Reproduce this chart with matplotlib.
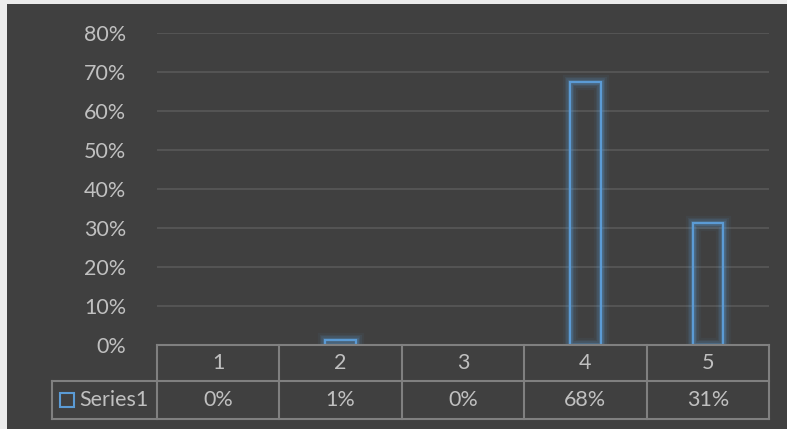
import matplotlib.pyplot as plt
from matplotlib.patches import Rectangle
from matplotlib.lines import Line2D
from matplotlib.ticker import MultipleLocator, PercentFormatter

# -------- dados --------
categorias = ["1", "2", "3", "4", "5"]
valores = [0.0, 0.013, 0.0, 0.675, 0.313]
rotulos = ["0%", "1%", "0%", "68%", "31%"]
serie = "Series1"

# -------- cores --------
fundo = "#404040"
grade = "#595959"
texto = "#c0c0c0"
linha_tab = "#808080"
azul = "#5b9bd5"

plt.rcParams["font.family"] = ["Lato", "DejaVu Sans"]

W, H = 787, 429
fig = plt.figure(figsize=(W / 100, H / 100), dpi=100, facecolor="#ececec")
fig.patches.append(Rectangle((7 / W, 0), 1, 1 - 4 / H, transform=fig.transFigure,
                             facecolor=fundo, edgecolor="none", zorder=-10))

x0, x1 = 157, 769
y0, y1 = 345, 33
ax = fig.add_axes([x0 / W, 1 - y0 / H, (x1 - x0) / W, (y0 - y1) / H])
ax.set_facecolor("none")

# barras com valor zero nao aparecem no original
pos = [i for i, v in enumerate(valores) if v > 0]
alt = [v for v in valores if v > 0]
# brilho em volta das barras
for lw, a in [(11, 0.06), (8, 0.09), (5.5, 0.14), (3.5, 0.2)]:
    ax.bar(pos, alt, width=0.25, facecolor="none", edgecolor=azul,
           linewidth=lw, alpha=a, zorder=2)
ax.bar(pos, alt, width=0.25, facecolor="none", edgecolor=azul,
       linewidth=1.6, zorder=3)

ax.set_xlim(-0.5, len(categorias) - 0.5)
ax.set_ylim(0, 0.8)
ax.yaxis.set_major_locator(MultipleLocator(0.1))
ax.yaxis.set_major_formatter(PercentFormatter(1.0, decimals=0))
ax.grid(axis="y", color=grade, linewidth=1.2)
ax.set_axisbelow(True)
for s in ax.spines.values():
    s.set_visible(False)
ax.tick_params(axis="y", length=0, pad=22, labelsize=15.5, labelcolor=texto)
ax.tick_params(axis="x", length=0, labelbottom=False)

# -------- tabela de dados --------
ph = y0 - y1
r1 = -(381 - y0) / ph
r2 = -(419 - y0) / ph
xl = (52 - x0) / (x1 - x0)
tr = ax.transAxes
kw = dict(color=linha_tab, linewidth=1.5, transform=tr, clip_on=False, zorder=4)
ax.add_line(Line2D([0, 1], [0, 0], **kw))
ax.add_line(Line2D([xl, 1], [r1, r1], **kw))
ax.add_line(Line2D([xl, 1], [r2, r2], **kw))
ax.add_line(Line2D([xl, xl], [r1, r2], **kw))
for i in range(len(categorias) + 1):
    xf = i / len(categorias)
    ax.add_line(Line2D([xf, xf], [0, r2], **kw))

for i, (c, r) in enumerate(zip(categorias, rotulos)):
    xc = (i + 0.5) / len(categorias)
    ax.text(xc, r1 / 2, c, transform=tr, ha="center", va="center",
            fontsize=15.5, color=texto, clip_on=False)
    ax.text(xc, (r1 + r2) / 2, r, transform=tr, ha="center", va="center",
            fontsize=15.5, color=texto, clip_on=False)

# legenda na tabela
q = 14
qx = (60 - x0) / (x1 - x0)
qy = (r1 + r2) / 2
ax.add_patch(Rectangle((qx, qy - (q / 2) / ph), q / (x1 - x0), q / ph, transform=tr,
                       facecolor="none", edgecolor=azul, linewidth=1.5, clip_on=False))
ax.text((79 - x0) / (x1 - x0), qy, serie, transform=tr, ha="left", va="center",
        fontsize=15.5, color=texto, clip_on=False)

fig.savefig("out.png", dpi=100, facecolor=fig.get_facecolor())
